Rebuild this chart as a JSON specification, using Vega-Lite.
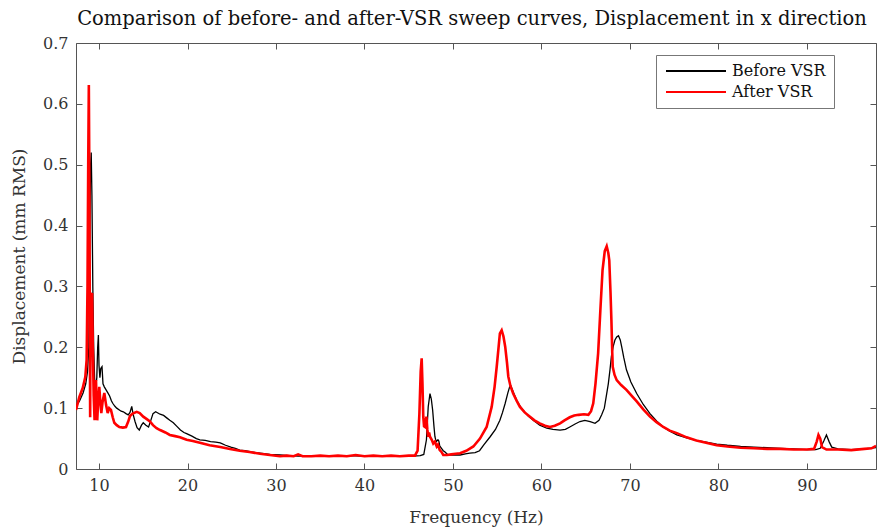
{
  "$schema": "https://vega.github.io/schema/vega-lite/v6.json",
  "width": 800,
  "height": 426,
  "autosize": {"type": "none"},
  "padding": {"left": 76, "top": 43, "right": 4, "bottom": 61},
  "background": "white",
  "title": {"text": "Comparison of before- and after-VSR sweep curves, Displacement in x direction", "font": "DejaVu Serif", "fontSize": 19.5, "fontWeight": "normal", "color": "#111", "offset": 6, "dx": -4},
  "datasets": {
    "curves": [
      {"s":"Before VSR","f":7.4,"v":0.103},{"s":"Before VSR","f":7.8,"v":0.112},{"s":"Before VSR","f":8.2,"v":0.125},{"s":"Before VSR","f":8.5,"v":0.14},{"s":"Before VSR","f":8.7,"v":0.16},{"s":"Before VSR","f":8.85,"v":0.2},{"s":"Before VSR","f":8.95,"v":0.38},{"s":"Before VSR","f":9.05,"v":0.5},{"s":"Before VSR","f":9.12,"v":0.52},{"s":"Before VSR","f":9.2,"v":0.45},{"s":"Before VSR","f":9.3,"v":0.3},{"s":"Before VSR","f":9.4,"v":0.2},{"s":"Before VSR","f":9.5,"v":0.15},{"s":"Before VSR","f":9.6,"v":0.13},{"s":"Before VSR","f":9.75,"v":0.15},{"s":"Before VSR","f":9.85,"v":0.2},{"s":"Before VSR","f":9.93,"v":0.22},{"s":"Before VSR","f":10.0,"v":0.17},{"s":"Before VSR","f":10.1,"v":0.15},{"s":"Before VSR","f":10.2,"v":0.165},{"s":"Before VSR","f":10.34,"v":0.168},{"s":"Before VSR","f":10.45,"v":0.14},{"s":"Before VSR","f":10.6,"v":0.135},{"s":"Before VSR","f":10.8,"v":0.13},{"s":"Before VSR","f":11.0,"v":0.125},{"s":"Before VSR","f":11.2,"v":0.12},{"s":"Before VSR","f":11.4,"v":0.112},{"s":"Before VSR","f":11.55,"v":0.108},{"s":"Before VSR","f":11.8,"v":0.103},{"s":"Before VSR","f":12.0,"v":0.1},{"s":"Before VSR","f":12.3,"v":0.097},{"s":"Before VSR","f":12.5,"v":0.095},{"s":"Before VSR","f":12.75,"v":0.094},{"s":"Before VSR","f":13.05,"v":0.091},{"s":"Before VSR","f":13.3,"v":0.089},{"s":"Before VSR","f":13.5,"v":0.093},{"s":"Before VSR","f":13.7,"v":0.103},{"s":"Before VSR","f":13.85,"v":0.09},{"s":"Before VSR","f":14.07,"v":0.078},{"s":"Before VSR","f":14.3,"v":0.068},{"s":"Before VSR","f":14.55,"v":0.064},{"s":"Before VSR","f":14.8,"v":0.072},{"s":"Before VSR","f":15.0,"v":0.076},{"s":"Before VSR","f":15.3,"v":0.072},{"s":"Before VSR","f":15.6,"v":0.069},{"s":"Before VSR","f":15.9,"v":0.082},{"s":"Before VSR","f":16.1,"v":0.091},{"s":"Before VSR","f":16.4,"v":0.094},{"s":"Before VSR","f":16.9,"v":0.09},{"s":"Before VSR","f":17.3,"v":0.088},{"s":"Before VSR","f":17.65,"v":0.084},{"s":"Before VSR","f":18.0,"v":0.08},{"s":"Before VSR","f":18.4,"v":0.076},{"s":"Before VSR","f":18.8,"v":0.07},{"s":"Before VSR","f":19.2,"v":0.064},{"s":"Before VSR","f":19.6,"v":0.06},{"s":"Before VSR","f":19.9,"v":0.058},{"s":"Before VSR","f":20.5,"v":0.054},{"s":"Before VSR","f":21.0,"v":0.05},{"s":"Before VSR","f":21.4,"v":0.048},{"s":"Before VSR","f":22.0,"v":0.047},{"s":"Before VSR","f":22.6,"v":0.045},{"s":"Before VSR","f":23.2,"v":0.044},{"s":"Before VSR","f":23.7,"v":0.043},{"s":"Before VSR","f":24.3,"v":0.039},{"s":"Before VSR","f":24.9,"v":0.036},{"s":"Before VSR","f":25.4,"v":0.034},{"s":"Before VSR","f":25.9,"v":0.031},{"s":"Before VSR","f":26.5,"v":0.03},{"s":"Before VSR","f":27.2,"v":0.028},{"s":"Before VSR","f":28.2,"v":0.026},{"s":"Before VSR","f":29.3,"v":0.024},{"s":"Before VSR","f":30.45,"v":0.023},{"s":"Before VSR","f":31.5,"v":0.022},{"s":"Before VSR","f":32.5,"v":0.021},{"s":"Before VSR","f":33.5,"v":0.021},{"s":"Before VSR","f":34.5,"v":0.022},{"s":"Before VSR","f":35.5,"v":0.021},{"s":"Before VSR","f":36.5,"v":0.022},{"s":"Before VSR","f":37.5,"v":0.021},{"s":"Before VSR","f":38.5,"v":0.022},{"s":"Before VSR","f":39.5,"v":0.021},{"s":"Before VSR","f":40.5,"v":0.022},{"s":"Before VSR","f":41.5,"v":0.021},{"s":"Before VSR","f":42.5,"v":0.022},{"s":"Before VSR","f":43.5,"v":0.021},{"s":"Before VSR","f":44.5,"v":0.022},{"s":"Before VSR","f":45.5,"v":0.021},{"s":"Before VSR","f":46.3,"v":0.022},{"s":"Before VSR","f":46.7,"v":0.024},{"s":"Before VSR","f":47.0,"v":0.048},{"s":"Before VSR","f":47.2,"v":0.102},{"s":"Before VSR","f":47.4,"v":0.124},{"s":"Before VSR","f":47.55,"v":0.115},{"s":"Before VSR","f":47.7,"v":0.097},{"s":"Before VSR","f":47.85,"v":0.07},{"s":"Before VSR","f":47.96,"v":0.053},{"s":"Before VSR","f":48.1,"v":0.045},{"s":"Before VSR","f":48.3,"v":0.048},{"s":"Before VSR","f":48.4,"v":0.046},{"s":"Before VSR","f":48.5,"v":0.038},{"s":"Before VSR","f":48.7,"v":0.034},{"s":"Before VSR","f":48.9,"v":0.03},{"s":"Before VSR","f":49.1,"v":0.028},{"s":"Before VSR","f":49.3,"v":0.025},{"s":"Before VSR","f":49.5,"v":0.023},{"s":"Before VSR","f":50.0,"v":0.023},{"s":"Before VSR","f":50.8,"v":0.023},{"s":"Before VSR","f":51.4,"v":0.025},{"s":"Before VSR","f":51.9,"v":0.026},{"s":"Before VSR","f":52.5,"v":0.027},{"s":"Before VSR","f":53.0,"v":0.03},{"s":"Before VSR","f":53.5,"v":0.04},{"s":"Before VSR","f":54.2,"v":0.053},{"s":"Before VSR","f":54.8,"v":0.065},{"s":"Before VSR","f":55.3,"v":0.08},{"s":"Before VSR","f":55.6,"v":0.093},{"s":"Before VSR","f":55.9,"v":0.108},{"s":"Before VSR","f":56.2,"v":0.125},{"s":"Before VSR","f":56.4,"v":0.135},{"s":"Before VSR","f":56.55,"v":0.136},{"s":"Before VSR","f":56.8,"v":0.127},{"s":"Before VSR","f":57.2,"v":0.113},{"s":"Before VSR","f":57.5,"v":0.105},{"s":"Before VSR","f":57.9,"v":0.097},{"s":"Before VSR","f":58.5,"v":0.087},{"s":"Before VSR","f":59.07,"v":0.08},{"s":"Before VSR","f":59.8,"v":0.072},{"s":"Before VSR","f":60.6,"v":0.067},{"s":"Before VSR","f":61.3,"v":0.065},{"s":"Before VSR","f":62.1,"v":0.064},{"s":"Before VSR","f":62.7,"v":0.065},{"s":"Before VSR","f":63.2,"v":0.069},{"s":"Before VSR","f":63.8,"v":0.074},{"s":"Before VSR","f":64.35,"v":0.078},{"s":"Before VSR","f":64.9,"v":0.08},{"s":"Before VSR","f":65.5,"v":0.078},{"s":"Before VSR","f":66.05,"v":0.075},{"s":"Before VSR","f":66.5,"v":0.08},{"s":"Before VSR","f":66.8,"v":0.089},{"s":"Before VSR","f":67.1,"v":0.1},{"s":"Before VSR","f":67.37,"v":0.124},{"s":"Before VSR","f":67.55,"v":0.14},{"s":"Before VSR","f":67.74,"v":0.163},{"s":"Before VSR","f":67.9,"v":0.185},{"s":"Before VSR","f":68.1,"v":0.201},{"s":"Before VSR","f":68.3,"v":0.212},{"s":"Before VSR","f":68.5,"v":0.217},{"s":"Before VSR","f":68.7,"v":0.219},{"s":"Before VSR","f":68.9,"v":0.212},{"s":"Before VSR","f":69.06,"v":0.201},{"s":"Before VSR","f":69.3,"v":0.183},{"s":"Before VSR","f":69.6,"v":0.163},{"s":"Before VSR","f":70.1,"v":0.143},{"s":"Before VSR","f":70.76,"v":0.124},{"s":"Before VSR","f":71.5,"v":0.106},{"s":"Before VSR","f":72.26,"v":0.091},{"s":"Before VSR","f":73.0,"v":0.079},{"s":"Before VSR","f":73.76,"v":0.069},{"s":"Before VSR","f":74.5,"v":0.062},{"s":"Before VSR","f":75.3,"v":0.056},{"s":"Before VSR","f":76.4,"v":0.051},{"s":"Before VSR","f":77.5,"v":0.047},{"s":"Before VSR","f":78.6,"v":0.044},{"s":"Before VSR","f":79.8,"v":0.041},{"s":"Before VSR","f":81,"v":0.039},{"s":"Before VSR","f":82.5,"v":0.037},{"s":"Before VSR","f":84,"v":0.036},{"s":"Before VSR","f":85.5,"v":0.035},{"s":"Before VSR","f":87,"v":0.034},{"s":"Before VSR","f":88.5,"v":0.033},{"s":"Before VSR","f":90,"v":0.032},{"s":"Before VSR","f":91,"v":0.032},{"s":"Before VSR","f":91.5,"v":0.034},{"s":"Before VSR","f":91.9,"v":0.046},{"s":"Before VSR","f":92.2,"v":0.056},{"s":"Before VSR","f":92.5,"v":0.045},{"s":"Before VSR","f":92.8,"v":0.036},{"s":"Before VSR","f":93.5,"v":0.033},{"s":"Before VSR","f":95,"v":0.032},{"s":"Before VSR","f":96.5,"v":0.033},{"s":"Before VSR","f":97.8,"v":0.035},
      {"s":"After VSR","f":7.4,"v":0.097},{"s":"After VSR","f":7.77,"v":0.118},{"s":"After VSR","f":8.16,"v":0.133},{"s":"After VSR","f":8.45,"v":0.151},{"s":"After VSR","f":8.6,"v":0.179},{"s":"After VSR","f":8.7,"v":0.3},{"s":"After VSR","f":8.78,"v":0.5},{"s":"After VSR","f":8.85,"v":0.631},{"s":"After VSR","f":8.92,"v":0.45},{"s":"After VSR","f":8.97,"v":0.2},{"s":"After VSR","f":9.0,"v":0.085},{"s":"After VSR","f":9.05,"v":0.29},{"s":"After VSR","f":9.15,"v":0.27},{"s":"After VSR","f":9.22,"v":0.289},{"s":"After VSR","f":9.3,"v":0.2},{"s":"After VSR","f":9.4,"v":0.12},{"s":"After VSR","f":9.5,"v":0.08},{"s":"After VSR","f":9.58,"v":0.12},{"s":"After VSR","f":9.66,"v":0.146},{"s":"After VSR","f":9.73,"v":0.11},{"s":"After VSR","f":9.8,"v":0.08},{"s":"After VSR","f":9.9,"v":0.11},{"s":"After VSR","f":10.03,"v":0.135},{"s":"After VSR","f":10.15,"v":0.11},{"s":"After VSR","f":10.26,"v":0.092},{"s":"After VSR","f":10.4,"v":0.11},{"s":"After VSR","f":10.6,"v":0.125},{"s":"After VSR","f":10.8,"v":0.105},{"s":"After VSR","f":10.98,"v":0.092},{"s":"After VSR","f":11.15,"v":0.1},{"s":"After VSR","f":11.35,"v":0.097},{"s":"After VSR","f":11.55,"v":0.085},{"s":"After VSR","f":11.73,"v":0.076},{"s":"After VSR","f":12.0,"v":0.072},{"s":"After VSR","f":12.3,"v":0.069},{"s":"After VSR","f":12.7,"v":0.068},{"s":"After VSR","f":13.05,"v":0.069},{"s":"After VSR","f":13.3,"v":0.078},{"s":"After VSR","f":13.5,"v":0.087},{"s":"After VSR","f":13.8,"v":0.091},{"s":"After VSR","f":14.26,"v":0.094},{"s":"After VSR","f":14.6,"v":0.092},{"s":"After VSR","f":15.0,"v":0.086},{"s":"After VSR","f":15.4,"v":0.082},{"s":"After VSR","f":15.76,"v":0.078},{"s":"After VSR","f":16.1,"v":0.072},{"s":"After VSR","f":16.5,"v":0.067},{"s":"After VSR","f":16.9,"v":0.064},{"s":"After VSR","f":17.5,"v":0.06},{"s":"After VSR","f":18.0,"v":0.056},{"s":"After VSR","f":18.6,"v":0.054},{"s":"After VSR","f":19.15,"v":0.052},{"s":"After VSR","f":19.9,"v":0.048},{"s":"After VSR","f":20.6,"v":0.046},{"s":"After VSR","f":21.4,"v":0.043},{"s":"After VSR","f":22.5,"v":0.039},{"s":"After VSR","f":23.7,"v":0.036},{"s":"After VSR","f":24.8,"v":0.033},{"s":"After VSR","f":25.9,"v":0.03},{"s":"After VSR","f":27.0,"v":0.028},{"s":"After VSR","f":28.2,"v":0.025},{"s":"After VSR","f":29.3,"v":0.023},{"s":"After VSR","f":30.45,"v":0.021},{"s":"After VSR","f":31.2,"v":0.022},{"s":"After VSR","f":32.0,"v":0.021},{"s":"After VSR","f":32.5,"v":0.024},{"s":"After VSR","f":33.0,"v":0.021},{"s":"After VSR","f":34,"v":0.021},{"s":"After VSR","f":35,"v":0.022},{"s":"After VSR","f":36,"v":0.021},{"s":"After VSR","f":37,"v":0.022},{"s":"After VSR","f":38,"v":0.021},{"s":"After VSR","f":39,"v":0.023},{"s":"After VSR","f":40,"v":0.021},{"s":"After VSR","f":41,"v":0.022},{"s":"After VSR","f":42,"v":0.021},{"s":"After VSR","f":43,"v":0.022},{"s":"After VSR","f":44,"v":0.021},{"s":"After VSR","f":45,"v":0.022},{"s":"After VSR","f":45.7,"v":0.022},{"s":"After VSR","f":46.0,"v":0.03},{"s":"After VSR","f":46.2,"v":0.09},{"s":"After VSR","f":46.35,"v":0.16},{"s":"After VSR","f":46.46,"v":0.182},{"s":"After VSR","f":46.55,"v":0.14},{"s":"After VSR","f":46.64,"v":0.086},{"s":"After VSR","f":46.73,"v":0.07},{"s":"After VSR","f":46.83,"v":0.069},{"s":"After VSR","f":46.92,"v":0.08},{"s":"After VSR","f":47.0,"v":0.086},{"s":"After VSR","f":47.1,"v":0.065},{"s":"After VSR","f":47.2,"v":0.053},{"s":"After VSR","f":47.3,"v":0.06},{"s":"After VSR","f":47.4,"v":0.053},{"s":"After VSR","f":47.6,"v":0.048},{"s":"After VSR","f":47.77,"v":0.042},{"s":"After VSR","f":47.95,"v":0.045},{"s":"After VSR","f":48.16,"v":0.037},{"s":"After VSR","f":48.3,"v":0.04},{"s":"After VSR","f":48.5,"v":0.031},{"s":"After VSR","f":48.7,"v":0.028},{"s":"After VSR","f":48.9,"v":0.023},{"s":"After VSR","f":49.3,"v":0.023},{"s":"After VSR","f":49.8,"v":0.024},{"s":"After VSR","f":50.3,"v":0.025},{"s":"After VSR","f":50.8,"v":0.026},{"s":"After VSR","f":51.5,"v":0.03},{"s":"After VSR","f":52.3,"v":0.037},{"s":"After VSR","f":53.05,"v":0.05},{"s":"After VSR","f":53.8,"v":0.069},{"s":"After VSR","f":54.37,"v":0.102},{"s":"After VSR","f":54.7,"v":0.135},{"s":"After VSR","f":54.94,"v":0.168},{"s":"After VSR","f":55.15,"v":0.2},{"s":"After VSR","f":55.3,"v":0.223},{"s":"After VSR","f":55.5,"v":0.228},{"s":"After VSR","f":55.7,"v":0.218},{"s":"After VSR","f":55.9,"v":0.201},{"s":"After VSR","f":56.1,"v":0.175},{"s":"After VSR","f":56.25,"v":0.152},{"s":"After VSR","f":56.5,"v":0.136},{"s":"After VSR","f":56.8,"v":0.124},{"s":"After VSR","f":57.2,"v":0.112},{"s":"After VSR","f":57.57,"v":0.102},{"s":"After VSR","f":58.1,"v":0.093},{"s":"After VSR","f":58.7,"v":0.086},{"s":"After VSR","f":59.2,"v":0.08},{"s":"After VSR","f":59.8,"v":0.075},{"s":"After VSR","f":60.4,"v":0.071},{"s":"After VSR","f":60.96,"v":0.069},{"s":"After VSR","f":61.5,"v":0.071},{"s":"After VSR","f":62.1,"v":0.075},{"s":"After VSR","f":62.6,"v":0.08},{"s":"After VSR","f":63.2,"v":0.085},{"s":"After VSR","f":63.7,"v":0.088},{"s":"After VSR","f":64.2,"v":0.089},{"s":"After VSR","f":64.8,"v":0.09},{"s":"After VSR","f":65.3,"v":0.089},{"s":"After VSR","f":65.6,"v":0.095},{"s":"After VSR","f":65.85,"v":0.108},{"s":"After VSR","f":66.1,"v":0.14},{"s":"After VSR","f":66.4,"v":0.19},{"s":"After VSR","f":66.65,"v":0.26},{"s":"After VSR","f":66.9,"v":0.327},{"s":"After VSR","f":67.15,"v":0.358},{"s":"After VSR","f":67.37,"v":0.366},{"s":"After VSR","f":67.55,"v":0.355},{"s":"After VSR","f":67.66,"v":0.343},{"s":"After VSR","f":67.8,"v":0.29},{"s":"After VSR","f":67.9,"v":0.245},{"s":"After VSR","f":68.0,"v":0.19},{"s":"After VSR","f":68.05,"v":0.168},{"s":"After VSR","f":68.25,"v":0.155},{"s":"After VSR","f":68.5,"v":0.146},{"s":"After VSR","f":69.0,"v":0.138},{"s":"After VSR","f":69.6,"v":0.13},{"s":"After VSR","f":70.2,"v":0.12},{"s":"After VSR","f":70.76,"v":0.111},{"s":"After VSR","f":71.5,"v":0.098},{"s":"After VSR","f":72.26,"v":0.086},{"s":"After VSR","f":73.0,"v":0.077},{"s":"After VSR","f":73.76,"v":0.069},{"s":"After VSR","f":74.5,"v":0.063},{"s":"After VSR","f":75.3,"v":0.059},{"s":"After VSR","f":76.4,"v":0.052},{"s":"After VSR","f":77.5,"v":0.047},{"s":"After VSR","f":78.6,"v":0.043},{"s":"After VSR","f":79.8,"v":0.039},{"s":"After VSR","f":81,"v":0.037},{"s":"After VSR","f":82.5,"v":0.035},{"s":"After VSR","f":84,"v":0.034},{"s":"After VSR","f":85.5,"v":0.033},{"s":"After VSR","f":87,"v":0.033},{"s":"After VSR","f":88.5,"v":0.032},{"s":"After VSR","f":90,"v":0.032},{"s":"After VSR","f":90.8,"v":0.033},{"s":"After VSR","f":91.1,"v":0.045},{"s":"After VSR","f":91.3,"v":0.056},{"s":"After VSR","f":91.5,"v":0.05},{"s":"After VSR","f":91.7,"v":0.036},{"s":"After VSR","f":92.2,"v":0.032},{"s":"After VSR","f":93.5,"v":0.032},{"s":"After VSR","f":95,"v":0.031},{"s":"After VSR","f":96.5,"v":0.033},{"s":"After VSR","f":97.3,"v":0.034},{"s":"After VSR","f":97.8,"v":0.038}
    ]
  },
  "data": {"name": "curves"},
  "layer": [
    {
      "transform": [{"filter": "datum.s === 'Before VSR'"}],
      "mark": {"type": "line", "strokeWidth": 1.3, "clip": true},
      "encoding": {
        "x": {"field": "f", "type": "quantitative", "scale": {"domain": [7.4, 97.8], "nice": false, "zero": false},
              "axis": {"title": "Frequency (Hz)", "values": [10,20,30,40,50,60,70,80,90], "orient": "bottom", "titlePadding": 16}},
        "y": {"field": "v", "type": "quantitative", "scale": {"domain": [0, 0.7], "nice": false},
              "axis": {"title": "Displacement (mm RMS)", "values": [0,0.1,0.2,0.3,0.4,0.5,0.6,0.7], "format": "~g", "orient": "left", "titlePadding": 14}},
        "color": {"field": "s", "type": "nominal", "sort": ["Before VSR", "After VSR"],
                  "scale": {"domain": ["Before VSR", "After VSR"], "range": ["#000000", "#ff0000"]},
                  "legend": {"title": null, "orient": "none", "legendX": 580, "legendY": 12, "symbolType": "M-1,0H9", "symbolSize": 144, "symbolStrokeWidth": 2.2, "labelFontSize": 16, "labelFont": "DejaVu Serif", "labelColor": "#111", "strokeColor": "#777", "fillColor": "white", "padding": 8, "rowPadding": 5, "labelOffset": 52}}
      }
    },
    {
      "transform": [{"filter": "datum.s === 'After VSR'"}],
      "mark": {"type": "line", "strokeWidth": 2.6, "clip": true},
      "encoding": {
        "x": {"field": "f", "type": "quantitative", "axis": null},
        "y": {"field": "v", "type": "quantitative", "axis": null},
        "color": {"field": "s", "type": "nominal"}
      }
    },
    {
      "mark": {"type": "line", "strokeOpacity": 0},
      "encoding": {
        "x": {"field": "f", "type": "quantitative", "axis": {"orient": "top", "labels": false, "title": null, "values": [10,20,30,40,50,60,70,80,90]}},
        "y": {"field": "v", "type": "quantitative", "axis": {"orient": "right", "labels": false, "title": null, "values": [0,0.1,0.2,0.3,0.4,0.5,0.6,0.7]}}
      }
    }
  ],
  "resolve": {"axis": {"x": "independent", "y": "independent"}},
  "config": {
    "font": "DejaVu Serif",
    "view": {"stroke": null},
    "axis": {"grid": false, "domainColor": "#555", "tickColor": "#555", "labelColor": "#333", "titleColor": "#333",
             "labelFontSize": 16, "titleFontSize": 17, "labelFont": "DejaVu Serif", "titleFont": "DejaVu Serif",
             "titleFontWeight": "normal", "tickSize": -6, "labelPadding": 14, "domainWidth": 1}
  }
}
